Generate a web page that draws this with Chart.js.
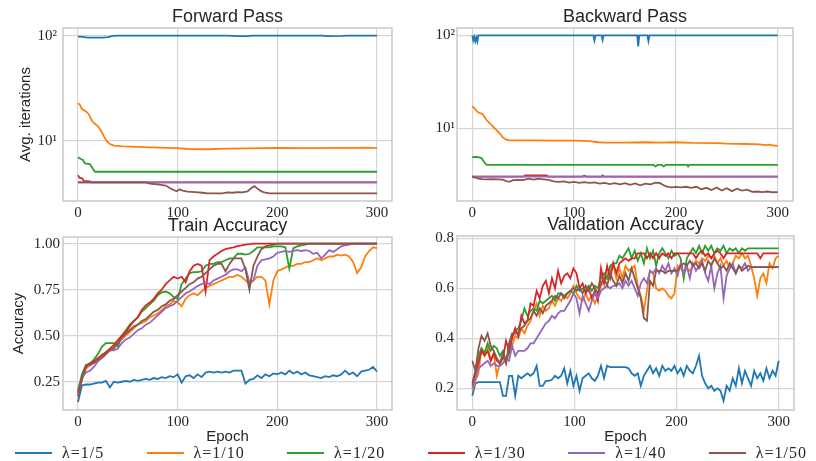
<!DOCTYPE html>
<html><head><meta charset="utf-8">
<script src="https://cdn.jsdelivr.net/npm/chart.js@4.4.0/dist/chart.umd.min.js"></script>
<style>
html,body{margin:0;padding:0;background:#fff;}
#wrap{position:relative;width:816px;height:461px;overflow:hidden;background:#fff;}
canvas{position:absolute;}
#legend{position:absolute;left:15px;right:9px;top:442px;height:22px;display:flex;justify-content:space-between;align-items:center;font-family:"Liberation Serif",serif;font-size:16px;color:#262626;letter-spacing:1px;}
.item{display:flex;align-items:center;white-space:nowrap;}
.swatch{width:37px;height:2px;margin-right:10px;}
</style></head>
<body><div id="wrap">
<canvas id="fwd" width="400" height="225" style="left:0;top:0;width:400px;height:225px"></canvas>
<canvas id="bwd" width="392" height="225" style="left:408px;top:0;width:392px;height:225px"></canvas>
<canvas id="train" width="400" height="240" style="left:0;top:209px;width:400px;height:240px"></canvas>
<canvas id="val" width="392" height="241" style="left:408px;top:208px;width:392px;height:241px"></canvas>
<div id="legend"></div>
</div>
<script>
// ---------- series / ticks ----------
const SERIES = ['λ=1/5','λ=1/10','λ=1/20','λ=1/30','λ=1/40','λ=1/50'];
const COLORS = ['#1f77b4','#ff7f0e','#2ca02c','#d62728','#9467bd','#8c564b'];
const X_TICKS = [0,100,200,300];
const LOG_TICKS = [10,100];
const LOG_TICK_LABELS = ['10¹','10²'];
const TRAIN_TICKS = [0.25,0.5,0.75,1.0];
const TRAIN_TICK_LABELS = ['0.25','0.50','0.75','1.00'];
const VAL_TICKS = [0.2,0.4,0.6,0.8];
const VAL_TICK_LABELS = ['0.2','0.4','0.6','0.8'];

// ---------- Forward pass: [epoch, avg iterations] ----------
const FWD_B = [[0,98],[5,97.5],[10,96],[15,95.7],[20,95.7],[25,96],[30,97],[35,99.5],[40,100],[150,100],[160,99],[170,99],[175,100],[245,100],[250,99.3],[265,99.5],[270,100],[300,100]];
const FWD_O = [[0,22.7],[2,22],[4,20],[8,19],[11,17.8],[14,15.5],[17,14.5],[20,13.8],[23,12.5],[26,11],[29,9.9],[32,9.3],[36,9],[45,8.85],[60,8.75],[80,8.6],[100,8.5],[110,8.35],[130,8.3],[150,8.4],[170,8.45],[200,8.55],[230,8.5],[260,8.55],[280,8.55],[290,8.6],[300,8.5]];
const FWD_G = [[0,6.95],[3,6.7],[5,6.55],[7,6.1],[12,6.0],[14,5.6],[17,5.07],[300,5.07]];
const FWD_R = [[0,4.7],[2,4.4],[4,4.4],[6,4.15],[12,4.1],[13,4.02],[300,4.02]];
const FWD_P = [[0,4.02],[300,4.02]];
const FWD_BR = [[0,4.02],[68,4.02],[72,3.9],[80,3.85],[88,3.75],[92,3.55],[96,3.4],[99,3.3],[102,3.45],[105,3.35],[110,3.28],[118,3.25],[125,3.2],[130,3.16],[145,3.16],[150,3.22],[155,3.2],[160,3.25],[165,3.22],[170,3.3],[174,3.55],[177,3.7],[180,3.5],[184,3.3],[188,3.2],[192,3.16],[300,3.16]];

// ---------- Backward pass: [epoch, avg iterations] ----------
const BWD_B = [[0,100],[1,88],[2,96],[3,86],[4,95],[5,86],[6,100],[119,100],[120,88],[121,100],[127,100],[128,89],[129,100],[162,100],[163,76],[164,100],[172,100],[173,87],[174,100],[300,100]];
const BWD_O = [[0,17.3],[2,16.5],[4,15.5],[6,14.8],[10,14.3],[14,12.3],[17,11.4],[20,10.6],[24,9.5],[27,8.8],[30,8.0],[33,7.6],[36,7.45],[60,7.45],[80,7.4],[100,7.4],[110,7.35],[115,7.3],[124,7.1],[130,7.05],[150,7.05],[170,7.1],[185,7.05],[199,7.1],[215,7.0],[240,6.95],[250,6.85],[270,6.8],[282,6.75],[288,6.6],[292,6.7],[296,6.55],[300,6.5]];
const BWD_G = [[0,4.9],[3,4.95],[6,4.9],[9,4.8],[12,4.3],[14,4.05],[178,4.05],[180,3.9],[182,4.05],[186,4.05],[188,3.9],[190,4.05],[211,4.05],[212,3.9],[213,4.05],[300,4.05]];
const BWD_R = [[0,3.03],[50,3.03],[52,3.12],[73,3.12],[75,3.03],[108,3.03],[110,3.1],[112,3.03],[127,3.03],[128,3.12],[129,3.03],[300,3.03]];
const BWD_P = [[0,3.03],[300,3.03]];
const BWD_BR = [[0,3.03],[3,2.95],[6,2.88],[10,2.85],[15,2.84],[20,2.85],[25,2.84],[30,2.82],[34,2.7],[37,2.68],[40,2.78],[45,2.8],[50,2.78],[55,2.88],[60,2.82],[65,2.88],[70,2.84],[75,2.8],[80,2.7],[85,2.66],[90,2.7],[95,2.62],[100,2.66],[105,2.6],[110,2.65],[115,2.6],[120,2.63],[125,2.55],[130,2.6],[135,2.52],[140,2.58],[145,2.5],[150,2.58],[155,2.48],[160,2.56],[165,2.45],[170,2.55],[175,2.5],[180,2.62],[184,2.6],[188,2.45],[192,2.35],[196,2.33],[200,2.35],[205,2.32],[210,2.36],[215,2.3],[220,2.36],[225,2.22],[230,2.3],[235,2.18],[240,2.32],[245,2.15],[250,2.28],[255,2.12],[260,2.25],[265,2.15],[270,2.2],[275,2.08],[280,2.1],[285,2.07],[290,2.1],[295,2.06],[300,2.07]];

// ---------- Train accuracy (every 4 epochs) ----------
const TRAIN_EPOCHS = [0,4,8,12,16,20,24,28,32,36,40,44,48,52,56,60,64,68,72,76,80,84,88,92,96,100,104,108,112,116,120,124,128,132,136,140,144,148,152,156,160,164,168,172,176,180,184,188,192,196,200,204,208,212,216,220,224,228,232,236,240,244,248,252,256,260,264,268,272,276,280,284,288,292,296,300];
const TRAIN_B = [0.14,0.23,0.235,0.235,0.24,0.245,0.245,0.255,0.22,0.25,0.245,0.25,0.255,0.25,0.26,0.255,0.26,0.265,0.26,0.27,0.265,0.275,0.27,0.28,0.275,0.29,0.245,0.28,0.285,0.27,0.29,0.275,0.3,0.305,0.3,0.305,0.3,0.305,0.3,0.31,0.31,0.31,0.24,0.26,0.265,0.285,0.27,0.29,0.28,0.295,0.29,0.3,0.29,0.31,0.295,0.305,0.29,0.3,0.285,0.28,0.275,0.27,0.28,0.275,0.285,0.28,0.29,0.31,0.29,0.3,0.28,0.305,0.31,0.315,0.33,0.305];
const TRAIN_O = [0.2,0.27,0.32,0.34,0.36,0.38,0.39,0.41,0.42,0.44,0.46,0.48,0.5,0.52,0.54,0.56,0.57,0.58,0.6,0.61,0.62,0.64,0.66,0.67,0.69,0.68,0.66,0.7,0.72,0.73,0.72,0.74,0.76,0.77,0.78,0.79,0.8,0.81,0.82,0.82,0.83,0.82,0.8,0.78,0.8,0.82,0.82,0.8,0.67,0.8,0.85,0.86,0.87,0.88,0.88,0.89,0.89,0.9,0.9,0.91,0.92,0.91,0.92,0.93,0.93,0.94,0.935,0.94,0.93,0.9,0.84,0.87,0.93,0.96,0.98,0.975];
const TRAIN_G = [0.2,0.29,0.34,0.35,0.37,0.4,0.44,0.46,0.46,0.46,0.44,0.5,0.53,0.56,0.58,0.6,0.63,0.65,0.67,0.69,0.72,0.735,0.74,0.73,0.71,0.7,0.78,0.81,0.84,0.845,0.845,0.85,0.88,0.89,0.89,0.9,0.9,0.91,0.92,0.92,0.945,0.945,0.94,0.945,0.96,0.98,0.98,0.98,0.98,0.985,0.985,0.985,0.98,0.865,0.975,0.985,0.99,0.995,1,1,1,1,1,1,1,1,1,1,1,1,1,1,1,1,1,1];
const TRAIN_R = [0.17,0.26,0.33,0.35,0.36,0.377,0.395,0.41,0.43,0.45,0.476,0.5,0.52,0.55,0.58,0.6,0.64,0.665,0.68,0.7,0.73,0.75,0.78,0.8,0.82,0.81,0.82,0.79,0.85,0.88,0.89,0.88,0.74,0.91,0.93,0.945,0.96,0.97,0.975,0.98,0.987,0.99,0.995,0.997,1,1,1,1,1,1,1,1,1,1,1,1,1,1,1,1,1,1,1,1,1,1,1,1,1,1,1,1,1,1,1,1];
const TRAIN_P = [0.18,0.27,0.3,0.31,0.33,0.36,0.38,0.4,0.42,0.42,0.43,0.46,0.48,0.49,0.51,0.53,0.54,0.56,0.57,0.59,0.61,0.63,0.65,0.66,0.67,0.69,0.71,0.73,0.74,0.755,0.77,0.78,0.79,0.78,0.8,0.81,0.82,0.83,0.85,0.86,0.86,0.85,0.87,0.79,0.8,0.88,0.91,0.915,0.92,0.93,0.95,0.955,0.96,0.955,0.96,0.965,0.96,0.965,0.96,0.945,0.95,0.92,0.94,0.965,0.955,0.97,0.985,0.99,0.995,1,1,1,1,1,1,1];
const TRAIN_BR = [0.19,0.27,0.34,0.34,0.35,0.37,0.38,0.4,0.42,0.43,0.46,0.49,0.51,0.53,0.55,0.56,0.58,0.59,0.61,0.63,0.64,0.66,0.67,0.69,0.7,0.72,0.74,0.76,0.78,0.79,0.81,0.82,0.84,0.86,0.88,0.89,0.89,0.85,0.89,0.92,0.92,0.92,0.86,0.75,0.88,0.93,0.97,0.985,0.99,0.995,1,1,1,1,1,1,1,1,1,1,1,1,1,1,1,1,1,1,1,1,1,1,1,1,1,1];

// ---------- Validation accuracy (every 3 epochs) ----------
const VAL_EPOCHS = [0,3,6,9,12,15,18,21,24,27,30,33,36,39,42,45,48,51,54,57,60,63,66,69,72,75,78,81,84,87,90,93,96,99,102,105,108,111,114,117,120,123,126,129,132,135,138,141,144,147,150,153,156,159,162,165,168,171,174,177,180,183,186,189,192,195,198,201,204,207,210,213,216,219,222,225,228,231,234,237,240,243,246,249,252,255,258,261,264,267,270,273,276,279,282,285,288,291,294,297,300];
const VAL_B = [0.17,0.22,0.225,0.225,0.225,0.225,0.225,0.225,0.225,0.225,0.17,0.17,0.25,0.25,0.17,0.25,0.24,0.25,0.26,0.25,0.26,0.29,0.21,0.21,0.23,0.23,0.235,0.25,0.24,0.25,0.28,0.22,0.27,0.21,0.25,0.19,0.24,0.25,0.26,0.24,0.23,0.25,0.29,0.24,0.29,0.285,0.285,0.285,0.285,0.285,0.285,0.28,0.26,0.25,0.26,0.21,0.25,0.27,0.29,0.26,0.28,0.25,0.29,0.27,0.28,0.27,0.29,0.26,0.28,0.25,0.29,0.27,0.26,0.29,0.33,0.25,0.22,0.2,0.21,0.19,0.2,0.19,0.15,0.21,0.19,0.24,0.21,0.28,0.22,0.27,0.24,0.21,0.27,0.24,0.26,0.23,0.28,0.24,0.27,0.25,0.31];
const VAL_O = [0.19,0.23,0.26,0.36,0.34,0.37,0.31,0.34,0.25,0.3,0.33,0.3,0.36,0.37,0.41,0.4,0.44,0.42,0.45,0.47,0.51,0.54,0.49,0.53,0.51,0.52,0.55,0.53,0.56,0.55,0.57,0.56,0.58,0.61,0.58,0.56,0.55,0.58,0.55,0.57,0.54,0.57,0.61,0.63,0.64,0.67,0.7,0.64,0.68,0.64,0.69,0.67,0.68,0.69,0.61,0.57,0.51,0.59,0.67,0.66,0.6,0.59,0.6,0.59,0.57,0.56,0.58,0.69,0.68,0.66,0.68,0.67,0.69,0.71,0.7,0.72,0.71,0.73,0.72,0.73,0.7,0.72,0.69,0.71,0.68,0.7,0.73,0.72,0.74,0.72,0.73,0.69,0.64,0.57,0.64,0.66,0.62,0.7,0.68,0.72,0.73];
const VAL_G = [0.22,0.27,0.33,0.36,0.34,0.38,0.35,0.37,0.36,0.33,0.35,0.31,0.34,0.41,0.43,0.44,0.47,0.52,0.49,0.51,0.52,0.51,0.55,0.54,0.55,0.56,0.57,0.55,0.58,0.58,0.57,0.58,0.59,0.58,0.61,0.59,0.6,0.59,0.61,0.59,0.61,0.6,0.64,0.66,0.64,0.69,0.7,0.7,0.73,0.72,0.74,0.76,0.72,0.75,0.71,0.74,0.7,0.76,0.72,0.75,0.69,0.74,0.76,0.74,0.72,0.75,0.73,0.74,0.72,0.64,0.72,0.74,0.76,0.74,0.77,0.74,0.77,0.75,0.77,0.74,0.76,0.75,0.77,0.74,0.76,0.75,0.76,0.74,0.76,0.75,0.76,0.76,0.76,0.76,0.76,0.76,0.76,0.76,0.76,0.76,0.76];
const VAL_R = [0.21,0.26,0.3,0.35,0.33,0.35,0.31,0.34,0.31,0.3,0.32,0.39,0.35,0.4,0.44,0.41,0.49,0.46,0.47,0.54,0.53,0.59,0.56,0.61,0.63,0.58,0.64,0.6,0.67,0.62,0.65,0.66,0.64,0.68,0.66,0.6,0.62,0.58,0.6,0.56,0.59,0.55,0.68,0.62,0.69,0.64,0.7,0.66,0.7,0.71,0.72,0.71,0.72,0.72,0.74,0.74,0.74,0.72,0.74,0.72,0.74,0.72,0.74,0.73,0.74,0.72,0.74,0.74,0.74,0.74,0.74,0.74,0.74,0.72,0.74,0.75,0.73,0.74,0.72,0.74,0.75,0.74,0.72,0.74,0.74,0.74,0.74,0.74,0.74,0.74,0.74,0.74,0.74,0.74,0.72,0.74,0.74,0.74,0.74,0.74,0.74];
const VAL_P = [0.2,0.24,0.28,0.29,0.3,0.31,0.29,0.3,0.29,0.29,0.3,0.32,0.31,0.37,0.33,0.35,0.35,0.35,0.36,0.38,0.38,0.4,0.42,0.44,0.46,0.47,0.49,0.48,0.5,0.51,0.51,0.53,0.55,0.58,0.56,0.5,0.57,0.54,0.51,0.55,0.58,0.56,0.59,0.6,0.61,0.6,0.61,0.61,0.62,0.6,0.63,0.61,0.63,0.6,0.57,0.62,0.64,0.62,0.67,0.66,0.68,0.66,0.69,0.67,0.7,0.66,0.68,0.65,0.7,0.66,0.69,0.64,0.7,0.67,0.69,0.71,0.66,0.63,0.69,0.6,0.66,0.69,0.56,0.65,0.68,0.7,0.66,0.69,0.68,0.7,0.67,0.685,0.685,0.685,0.685,0.685,0.685,0.685,0.685,0.685,0.685];
const VAL_BR = [0.31,0.27,0.36,0.41,0.39,0.42,0.37,0.35,0.32,0.3,0.34,0.3,0.38,0.42,0.42,0.42,0.44,0.45,0.47,0.48,0.51,0.49,0.52,0.5,0.53,0.54,0.55,0.57,0.56,0.58,0.56,0.58,0.59,0.6,0.59,0.6,0.58,0.61,0.59,0.62,0.6,0.58,0.62,0.64,0.61,0.66,0.63,0.61,0.65,0.62,0.66,0.63,0.68,0.64,0.6,0.56,0.48,0.47,0.63,0.61,0.67,0.67,0.67,0.66,0.67,0.67,0.67,0.67,0.69,0.7,0.69,0.71,0.69,0.7,0.68,0.7,0.67,0.71,0.69,0.72,0.7,0.68,0.69,0.67,0.7,0.68,0.66,0.69,0.67,0.68,0.69,0.685,0.685,0.685,0.685,0.685,0.685,0.685,0.685,0.685,0.685];

// ---------- helpers ----------
const TXT = '#262626';
const SERIF = '"Liberation Serif", "Times New Roman", serif';
const SANS = '"Liberation Sans", Arial, sans-serif';
const zip = (xs, ys) => xs.map((x, i) => [x, ys[i]]);

function datasets(list) {
  return list.map((pts, i) => ({
    label: SERIES[i], data: pts, borderColor: COLORS[i], backgroundColor: COLORS[i],
    borderWidth: 1.8, pointRadius: 0, pointHoverRadius: 0, tension: 0, fill: false,
    order: list.length - 1 - i
  }));
}

const boxPlugin = {
  id: 'box',
  afterDatasetsDraw(chart) {
    const { ctx, chartArea: a } = chart;
    ctx.save();
    ctx.strokeStyle = '#cccccc';
    ctx.lineWidth = 1.6;
    ctx.strokeRect(a.left, a.top, a.right - a.left, a.bottom - a.top);
    ctx.restore();
  }
};

function makeChart(id, o) {
  const yScale = {
    type: o.yType, min: o.yMin, max: o.yMax,
    afterBuildTicks: s => { s.ticks = o.yTicks.map(v => ({ value: v })); },
    afterFit: s => { s.width = o.yWidth; },
    grid: { color: '#d6d6d6', lineWidth: 1.2, drawTicks: false },
    border: { display: false },
    ticks: { callback: (v, i) => o.yLabels[i], font: { family: SERIF, size: 15 }, color: TXT, padding: o.yTickPad, autoSkip: false },
    title: { display: !!o.yTitle, text: o.yTitle || '', font: { family: SANS, size: 15 }, color: TXT, padding: { top: o.yTitlePad || 0, bottom: 0 } }
  };
  const xScale = {
    type: 'linear', min: -15, max: 315,
    afterBuildTicks: s => { s.ticks = X_TICKS.map(v => ({ value: v })); },
    afterFit: s => { s.height = o.xHeight; },
    grid: { color: '#d6d6d6', lineWidth: 1.2, drawTicks: false },
    border: { display: false },
    ticks: { callback: v => String(v), font: { family: SERIF, size: 15 }, color: TXT, padding: 3, maxRotation: 0, autoSkip: false },
    title: { display: !!o.xTitle, text: o.xTitle || '', font: { family: SANS, size: 15, lineHeight: '18px' }, color: TXT, padding: { top: 0, bottom: 3 } }
  };
  return new Chart(document.getElementById(id), {
    type: 'line',
    data: { datasets: datasets(o.series) },
    options: {
      responsive: false, maintainAspectRatio: false, animation: false, events: [],
      layout: { padding: { left: 0, right: o.padRight, top: 0, bottom: 0 } },
      scales: { x: xScale, y: yScale },
      plugins: {
        legend: { display: false }, tooltip: { enabled: false },
        title: { display: true, text: o.title, fullSize: false, color: TXT,
                 font: { family: SANS, size: 18, weight: 'normal', lineHeight: '20px' }, padding: { top: 7, bottom: 1 } }
      }
    },
    plugins: [boxPlugin]
  });
}

makeChart('fwd', { title: 'Forward Pass', series: [FWD_B, FWD_O, FWD_G, FWD_R, FWD_P, FWD_BR],
  yType: 'logarithmic', yMin: 2.67, yMax: 118.4, yTicks: LOG_TICKS, yLabels: LOG_TICK_LABELS,
  yTitle: 'Avg. iterations', yTitlePad: 17, yWidth: 63, yTickPad: 6, xHeight: 24, padRight: 8 });

makeChart('bwd', { title: 'Backward Pass', series: [BWD_B, BWD_O, BWD_G, BWD_R, BWD_P, BWD_BR],
  yType: 'logarithmic', yMin: 1.66, yMax: 119.8, yTicks: LOG_TICKS, yLabels: LOG_TICK_LABELS,
  yWidth: 49, yTickPad: 2, xHeight: 24, padRight: 7 });

makeChart('train', { title: 'Train Accuracy',
  series: [TRAIN_B, TRAIN_O, TRAIN_G, TRAIN_R, TRAIN_P, TRAIN_BR].map(v => zip(TRAIN_EPOCHS, v)),
  yType: 'linear', yMin: 0.0966, yMax: 1.036, yTicks: TRAIN_TICKS, yLabels: TRAIN_TICK_LABELS,
  yTitle: 'Accuracy', yTitlePad: 10, yWidth: 63, yTickPad: 3, xHeight: 39, xTitle: 'Epoch', padRight: 8 });

makeChart('val', { title: 'Validation Accuracy',
  series: [VAL_B, VAL_O, VAL_G, VAL_R, VAL_P, VAL_BR].map(v => zip(VAL_EPOCHS, v)),
  yType: 'linear', yMin: 0.1132, yMax: 0.8092, yTicks: VAL_TICKS, yLabels: VAL_TICK_LABELS,
  yWidth: 49, yTickPad: 3, xHeight: 39, xTitle: 'Epoch', padRight: 6 });

// ---------- shared legend ----------
const legend = document.getElementById('legend');
SERIES.forEach((s, i) => {
  const item = document.createElement('div'); item.className = 'item';
  const sw = document.createElement('span'); sw.className = 'swatch'; sw.style.background = COLORS[i];
  const t = document.createElement('span'); t.textContent = s;
  item.appendChild(sw); item.appendChild(t); legend.appendChild(item);
});
</script>
</body></html>
